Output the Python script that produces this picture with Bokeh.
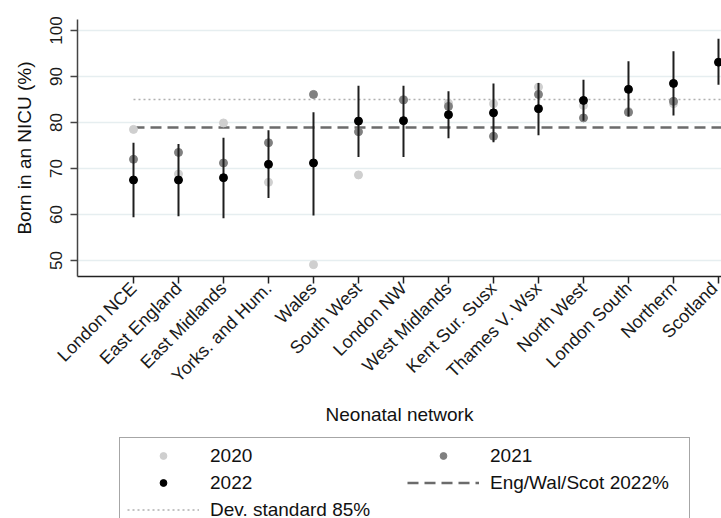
import math
from bokeh.plotting import figure
from bokeh.layouts import column
from bokeh.models import Range1d, FixedTicker, Legend, LegendItem
from bokeh.embed import file_html
from bokeh.resources import INLINE

NAN = float("nan")

# ---- data ----
networks = ["London NCE", "East England", "East Midlands", "Yorks. and Hum.", "Wales",
            "South West", "London NW", "West Midlands", "Kent Sur. Susx", "Thames V. Wsx",
            "North West", "London South", "Northern", "Scotland"]
pct_2020 = [78.5, 68.8, 79.9, 67.0, 49.1, 68.6, 85.0, 84.2, 84.1, 87.7, 83.7, 82.4, 84.1, NAN]
pct_2021 = [72.0, 73.5, 71.2, 75.6, 86.1, 78.0, 84.9, 83.5, 77.0, 86.1, 81.0, 82.2, 84.6, NAN]
pct_2022 = [67.5, 67.5, 68.0, 70.9, 71.2, 80.3, 80.4, 81.7, 82.1, 83.0, 84.8, 87.2, 88.5, 93.1]
ci_low_2022 = [59.4, 59.6, 59.2, 63.6, 59.8, 72.5, 72.5, 76.6, 75.7, 77.2, 80.4, 81.3, 81.5, 88.2]
ci_high_2022 = [75.6, 75.3, 76.7, 78.3, 82.2, 88.0, 88.0, 86.8, 88.5, 88.6, 89.3, 93.3, 95.5, 98.2]
national_2022 = 78.9
dev_standard = 85.0
y_ticks = [50, 60, 70, 80, 90, 100]

xs = list(range(1, len(networks) + 1))

FONT = "Liberation Sans"

# styles
C2020 = "#cfcfcf"
C2021 = "#808080"
DASH = dict(line_color="#6b6b6b", line_width=2.6, line_dash="11 6")
DOT = dict(line_color="#b0b0b0", line_width=1.5, line_dash="2 3")

p = figure(width=721, height=435,
           x_range=Range1d(-0.2444, 14.067), y_range=Range1d(46.52, 102.39),
           output_backend="svg", toolbar_location=None,
           min_border_left=77, min_border_right=0, min_border_top=19, min_border_bottom=159)
p.outline_line_color = None
p.background_fill_color = "white"
p.border_fill_color = "white"

p.xgrid.visible = False
p.ygrid.grid_line_color = "#e6eef0"
p.ygrid.grid_line_width = 1.5

p.yaxis.ticker = FixedTicker(ticks=y_ticks)
p.xaxis.ticker = FixedTicker(ticks=xs)
p.xaxis.major_label_overrides = {x: n for x, n in zip(xs, networks)}
p.xaxis.major_label_orientation = math.pi / 4
p.yaxis.major_label_orientation = "vertical"

for ax in (p.xaxis, p.yaxis):
    ax.minor_tick_line_color = None
    ax.major_tick_in = 0
    ax.major_tick_out = 7
    ax.major_tick_line_width = 1.5
    ax.axis_line_width = 1.5
    ax.major_label_text_font = FONT
    ax.major_label_text_color = "#1a1a1a"
    ax.axis_label_text_font = FONT
    ax.axis_label_text_font_style = "normal"
    ax.axis_label_text_font_size = "19px"
    ax.axis_label_text_color = "#111111"

p.xaxis.axis_line_color = "#222222"
p.xaxis.major_tick_line_color = "#222222"
p.yaxis.axis_line_color = "#444444"
p.yaxis.major_tick_line_color = "#444444"
p.xaxis.major_label_text_font_size = "18px"
p.yaxis.major_label_text_font_size = "17px"
p.xaxis.major_label_standoff = 2
p.yaxis.major_label_standoff = 8
p.xaxis.axis_label = "Neonatal network"
p.yaxis.axis_label = "Born in an NICU (%)"
p.xaxis.axis_label_standoff = 8
p.yaxis.axis_label_standoff = 13

# reference lines
p.line([xs[0], xs[-1] + 1], [dev_standard, dev_standard], **DOT)
p.line([xs[0], xs[-1] + 1], [national_2022, national_2022], **DASH)

p.scatter(xs, pct_2020, size=8, fill_color=C2020, line_color=C2020)
p.scatter(xs, pct_2021, size=8, fill_color=C2021, line_color=C2021)
p.segment(x0=xs, y0=ci_low_2022, x1=xs, y1=ci_high_2022, line_color="#1e1e1e", line_width=2)
p.scatter(xs, pct_2022, size=8, fill_color="black", line_color="black")

# ---- legend strip (separate figure below the plot) ----
lg = figure(width=721, height=83, x_range=Range1d(0, 1), y_range=Range1d(0, 1),
            x_axis_type=None, y_axis_type=None,
            output_backend="svg", toolbar_location=None,
            min_border_left=77, min_border_right=0, min_border_top=0, min_border_bottom=0)
lg.outline_line_color = None
lg.background_fill_color = "white"
lg.border_fill_color = "white"

# legend-only renderers (no visible data)
l20 = lg.scatter([NAN], [NAN], fill_color=C2020, line_color=C2020)
l21 = lg.scatter([NAN], [NAN], fill_color=C2021, line_color=C2021)
l22 = lg.scatter([NAN], [NAN], fill_color="black", line_color="black")
ldash = lg.line([NAN, NAN], [NAN, NAN], **DASH)
ldot = lg.line([NAN, NAN], [NAN, NAN], **DOT)

legend = Legend(items=[LegendItem(label="2020", renderers=[l20]),
                       LegendItem(label="2021", renderers=[l21]),
                       LegendItem(label="2022", renderers=[l22]),
                       LegendItem(label="Eng/Wal/Scot 2022%", renderers=[ldash]),
                       LegendItem(label="Dev. standard 85%", renderers=[ldot])],
                orientation="horizontal", ncols=2,
                location=(42, -10.5), margin=0,
                glyph_width=72, glyph_height=17, label_width=192, label_height=20,
                label_standoff=11, padding=7, spacing=5,
                label_text_font=FONT, label_text_font_size="19px", label_text_color="#111111",
                border_line_color="#4d4d4d", border_line_width=1.5,
                background_fill_color="white", background_fill_alpha=1.0)
lg.add_layout(legend)

layout = column(p, lg, spacing=0)

open("out.html", "w").write(file_html(layout, INLINE))
